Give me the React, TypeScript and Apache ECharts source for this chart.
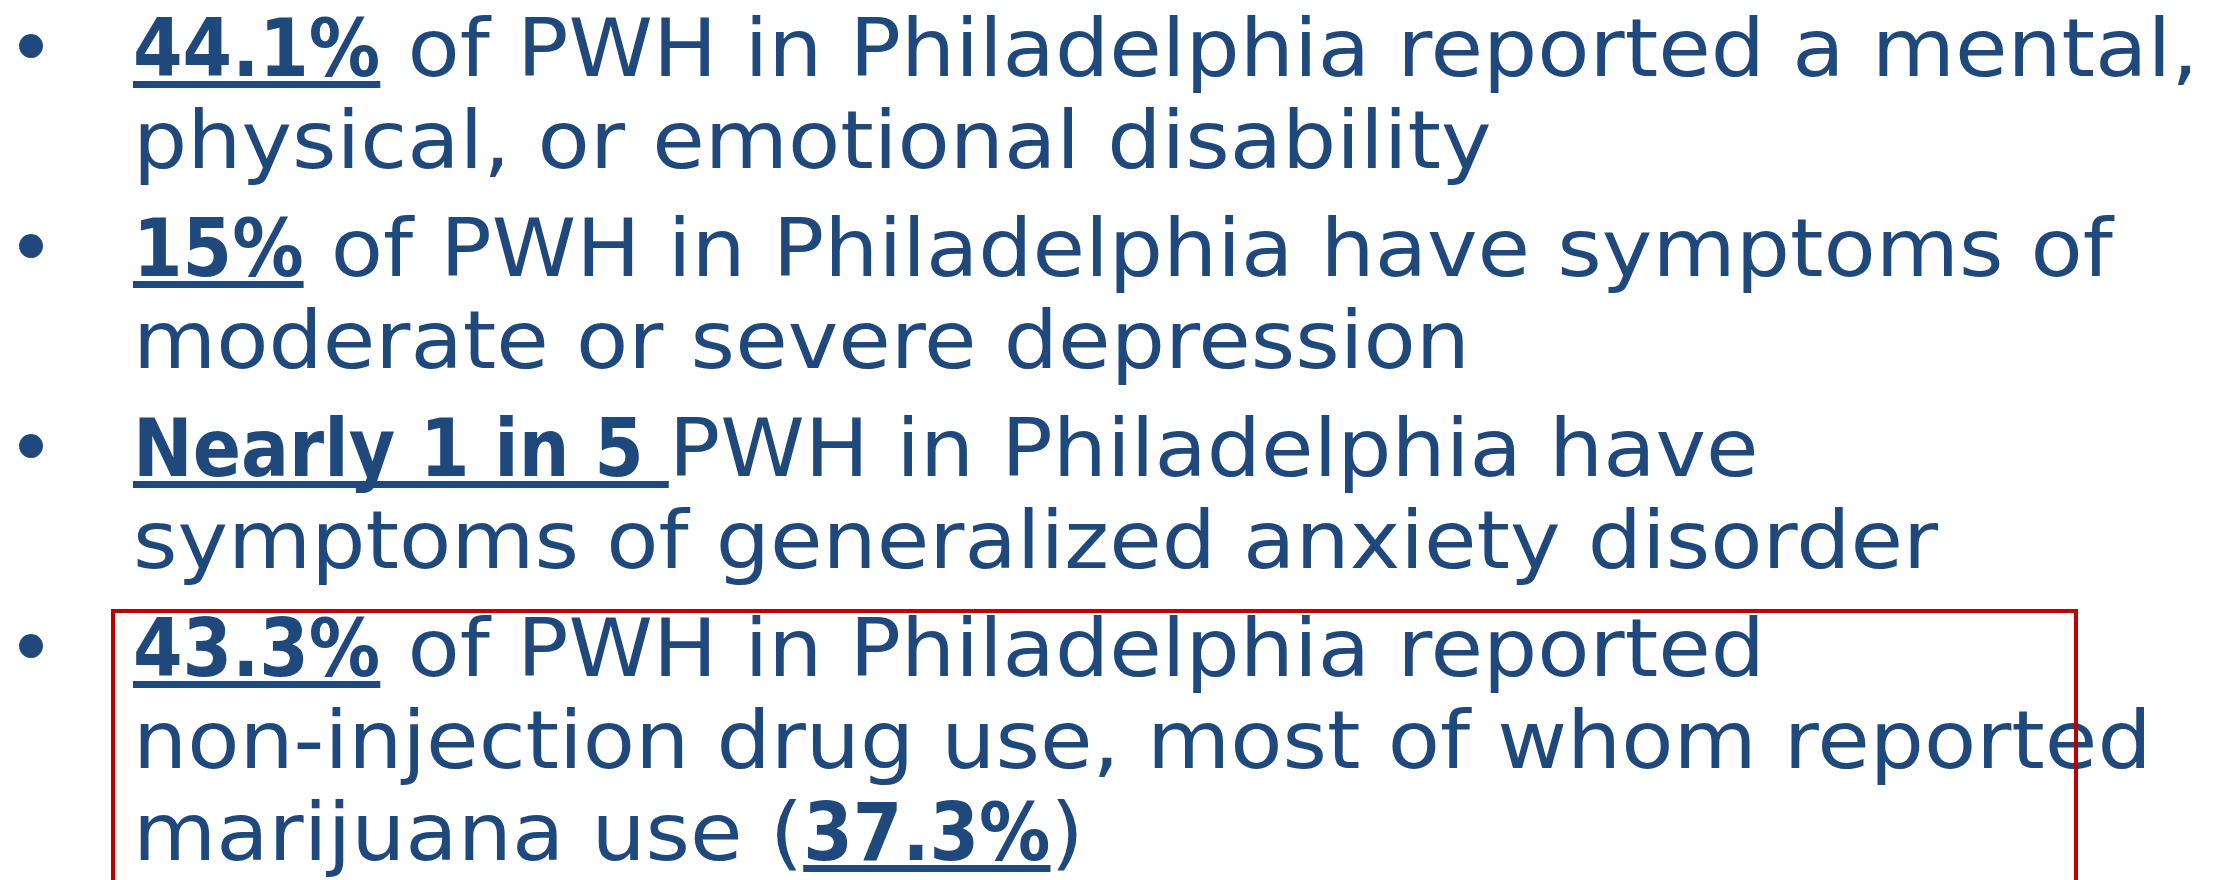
import React, { useEffect, useRef } from "react";
import * as echarts from "echarts";

type Seg = { t: string; b?: boolean };

// Bullet 1
const bullet1: Seg[][] = [
  [{ t: "44.1%", b: true }, { t: " of PWH in Philadelphia reported a mental," }],
  [{ t: "physical, or emotional disability" }],
];
// Bullet 2
const bullet2: Seg[][] = [
  [{ t: "15%", b: true }, { t: " of PWH in Philadelphia have symptoms of" }],
  [{ t: "moderate or severe depression" }],
];
// Bullet 3
const bullet3: Seg[][] = [
  [{ t: "Nearly 1 in 5 ", b: true }, { t: "PWH in Philadelphia have" }],
  [{ t: "symptoms of generalized anxiety disorder" }],
];
// Bullet 4 (highlighted)
const bullet4: Seg[][] = [
  [{ t: "43.3%", b: true }, { t: " of PWH in Philadelphia reported" }],
  [{ t: "non-injection drug use, most of whom reported" }],
  [{ t: "marijuana use (" }, { t: "37.3%", b: true }, { t: ")" }],
];
const bullets: Seg[][][] = [bullet1, bullet2, bullet3, bullet4];

const W = 2239;
const H = 880;
const FS = 81;
const REG_SCALE = 1.055;
const BOLD_SCALE = 0.88;
const FAMILY = '"DejaVu Sans", sans-serif';
const TEXT_COLOR = "#1F497D";
const BOX_COLOR = "#C00000";
const TEXT_X = 133;
const BULLET_X = 31;
const BULLET_R = 12;
const FIRST_BASELINE = 76;
const LINE_GAP = 92;
const PARA_GAP = 108;
const CENTRAL = 0.346 * FS; // central baseline offset above alphabetic baseline

function App() {
  const ref = useRef<HTMLDivElement | null>(null);
  useEffect(() => {
    if (!ref.current) return;
    const chart = echarts.init(ref.current, null, { renderer: "svg", width: W, height: H });
    const canvas = document.createElement("canvas");
    const ctx = canvas.getContext("2d")!;
    const measure = (s: string, bold?: boolean) => {
      ctx.font = `${bold ? "bold " : ""}${FS}px ${FAMILY}`;
      return ctx.measureText(s).width * (bold ? BOLD_SCALE : REG_SCALE);
    };

    const elements: any[] = [];
    let baseline = FIRST_BASELINE;
    bullets.forEach((para, pi) => {
      if (pi > 0) baseline += PARA_GAP;
      elements.push({
        type: "circle",
        silent: true,
        shape: { cx: BULLET_X, cy: baseline - 30, r: BULLET_R },
        style: { fill: TEXT_COLOR },
      });
      para.forEach((line, li) => {
        if (li > 0) baseline += LINE_GAP;
        let x = TEXT_X;
        line.forEach((seg) => {
          const lead = seg.t.length - seg.t.replace(/^\s+/, "").length;
          const leadW = lead ? measure(seg.t.slice(0, lead), seg.b) : 0;
          const trimmed = seg.t.trim();
          const fullW = measure(seg.t, seg.b);
          elements.push({
            type: "text",
            silent: true,
            x: x + leadW,
            y: baseline - CENTRAL,
            scaleX: seg.b ? BOLD_SCALE : REG_SCALE,
            style: {
              text: trimmed,
              fill: TEXT_COLOR,
              fontSize: FS,
              fontFamily: FAMILY,
              fontWeight: seg.b ? "bold" : "normal",
              align: "left",
              textAlign: "left",
              verticalAlign: "middle",
              textVerticalAlign: "middle",
            },
          });
          if (seg.b) {
            elements.push({
              type: "rect",
              silent: true,
              shape: { x, y: baseline + 5, width: fullW, height: 7 },
              style: { fill: TEXT_COLOR },
            });
          }
          x += fullW;
        });
      });
    });

    elements.push({
      type: "rect",
      silent: true,
      z: 10,
      shape: { x: 113, y: 611, width: 2076 - 113, height: 400 },
      style: { fill: "none", stroke: BOX_COLOR, lineWidth: 4 },
    });

    chart.setOption({
      animation: false,
      backgroundColor: "#ffffff",
      graphic: { elements },
    });
    return () => chart.dispose();
  }, []);
  return (
    <div
      ref={ref}
      style={{ position: "fixed", left: 0, top: 0, width: W, height: H, background: "#fff" }}
    />
  );
}

export default App;
